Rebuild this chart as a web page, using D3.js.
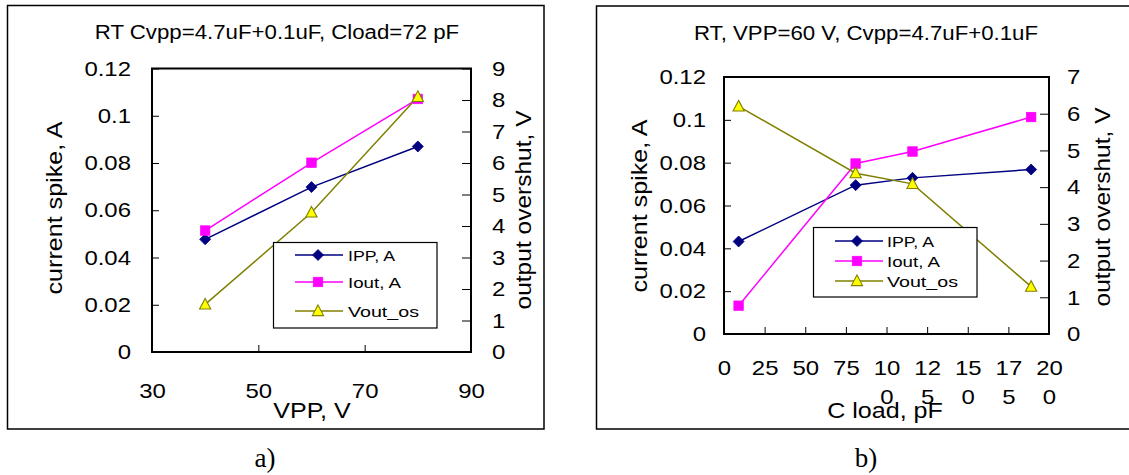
<!DOCTYPE html>
<html><head><meta charset="utf-8">
<script src="https://cdn.jsdelivr.net/npm/d3@7"></script>
<style>
body{margin:0;background:#fff}
svg{display:block}
text{font-family:"Liberation Sans",Arial,sans-serif;fill:#000}
</style>
</head><body>
<svg id="c" width="1129" height="475"></svg>
<script>
// ---- data ----
const vppA   = [40, 60, 80];
const ippA   = [0.0477, 0.0698, 0.0870];
const ioutA  = [0.0514, 0.0801, 0.1071];
const voutA  = [1.51, 4.43, 8.10];

const cloadB = [9, 81, 116, 189];
const ippB   = [0.0432, 0.0695, 0.0729, 0.0768];
const ioutB  = [0.0132, 0.0796, 0.0852, 0.1013];
const voutB  = [6.20, 4.38, 4.09, 1.29];

const seriesNames = ["IPP, A", "Iout, A", "Vout_os"];
const leftTicks = [0, 0.02, 0.04, 0.06, 0.08, 0.1, 0.12];
const leftTickLabels = ["0", "0.02", "0.04", "0.06", "0.08", "0.1", "0.12"];
const rightTicksA = [0,1,2,3,4,5,6,7,8,9];
const rightTicksB = [0,1,2,3,4,5,6,7];
const xTicksA = [30, 50, 70, 90];
const xTicksB = [0, 25, 50, 75, 100, 125, 150, 175, 200];
const xTickLabelsB = ["0","25","50","75","100","125","150","175","200"];

const titleA = "RT Cvpp=4.7uF+0.1uF, Cload=72 pF";
const titleB = "RT, VPP=60 V, Cvpp=4.7uF+0.1uF";
const xTitleA = "VPP, V";
const xTitleB = "C load, pF";
const yTitleL = "current spike, A";
const yTitleR = "output overshut, V";

const svg = d3.select("#c");
const colors = ["#000080", "#FF00FF", "#808000"];

function marker(g, kind, cx, cy) {
  if (kind === 0) {
    g.append("path").attr("d", `M${cx},${cy-5.5}L${cx+5.5},${cy}L${cx},${cy+5.5}L${cx-5.5},${cy}Z`)
      .attr("fill", "#000080").attr("stroke", "#000080").attr("stroke-width", 0.8);
  } else if (kind === 1) {
    g.append("rect").attr("x", cx-4.8).attr("y", cy-4.8).attr("width", 9.6).attr("height", 9.6)
      .attr("fill", "#FF00FF").attr("stroke", "#FF00FF").attr("stroke-width", 0.6);
  } else {
    g.append("path").attr("d", `M${cx},${cy-6}L${cx+5.6},${cy+4.6}L${cx-5.6},${cy+4.6}Z`)
      .attr("fill", "#FFFF00").attr("stroke", "#808000").attr("stroke-width", 1.1);
  }
}

function panel(o) {
  const g = svg.append("g");
  g.append("rect").attr("x", o.box[0]).attr("y", o.box[1])
    .attr("width", o.box[2]-o.box[0]).attr("height", o.box[3]-o.box[1])
    .attr("fill", "none").attr("stroke", "#000").attr("stroke-width", 1.5);

  const x = d3.scaleLinear().domain(o.xDomain).range([o.L, o.R]);
  const yL = d3.scaleLinear().domain([0, 0.12]).range([o.B, o.T]);
  const yR = d3.scaleLinear().domain([0, o.rMax]).range([o.B, o.T]);

  const ax = (sel) => { sel.select(".domain").remove(); sel.attr("font-family", null).attr("font-size", 21);
    sel.selectAll(".tick line").attr("stroke", "#000"); };

  g.append("g").attr("transform", `translate(${o.L},0)`)
    .call(d3.axisLeft(yL).tickValues(leftTicks).tickFormat((d,i)=>leftTickLabels[i])
      .tickSizeInner(-7).tickSizeOuter(0).tickPadding(o.padY)).call(ax);
  g.append("g").attr("transform", `translate(${o.R},0)`)
    .call(d3.axisRight(yR).tickValues(o.rTicks).tickFormat(d=>String(d))
      .tickSizeInner(-9).tickSizeOuter(0).tickPadding(o.padY)).call(ax);
  const xa = g.append("g").attr("transform", `translate(0,${o.B})`)
    .call(d3.axisBottom(x).tickValues(o.xTicks).tickFormat((d,i)=>o.xLabels[i])
      .tickSizeInner(-7).tickSizeOuter(0).tickPadding(o.padX)).call(ax);
  if (o.wrap) {
    xa.selectAll(".tick text").each(function(d,i){
      const lab = o.xLabels[i];
      const t = d3.select(this); t.text(null);
      if (lab.length > 2) {
        t.append("tspan").attr("x", 0).text(lab.slice(0,2));
        t.append("tspan").attr("x", 0).attr("dy", 29).text(lab.slice(2));
      } else {
        t.append("tspan").attr("x", 0).text(lab);
      }
    });
  }

  const sets = [[o.ipp, yL], [o.iout, yL], [o.vout, yR]];
  sets.forEach(([vals, ys], k) => {
    const pts = o.xs.map((xv, i) => [x(xv), ys(vals[i])]);
    g.append("path").attr("d", d3.line()(pts)).attr("fill", "none")
      .attr("stroke", colors[k]).attr("stroke-width", 1.5);
  });
  sets.forEach(([vals, ys], k) => {
    o.xs.forEach((xv, i) => marker(g, k, x(xv), ys(vals[i])));
  });

  g.append("rect").attr("x", o.L).attr("y", o.T).attr("width", o.R-o.L).attr("height", o.B-o.T)
    .attr("fill", "none").attr("stroke", "#000").attr("stroke-width", 2);

  // legend
  const lg = o.leg;
  g.append("rect").attr("x", lg.x0).attr("y", lg.y0).attr("width", lg.x1-lg.x0).attr("height", lg.y1-lg.y0)
    .attr("fill", "#fff").attr("stroke", "#000").attr("stroke-width", 1.2);
  const legW = [47, 53, 71];
  seriesNames.forEach((nm, k) => {
    const yy = lg.rows[k];
    g.append("line").attr("x1", lg.l0).attr("x2", lg.l1).attr("y1", yy).attr("y2", yy)
      .attr("stroke", colors[k]).attr("stroke-width", 1.5);
    marker(g, k, lg.m, yy);
    g.append("text").attr("class", "fixed").attr("x", lg.t).attr("y", yy+5.6)
      .attr("font-size", 15.5).attr("textLength", legW[k]).attr("lengthAdjust", "spacingAndGlyphs").text(nm);
  });

  g.append("text").attr("x", o.title[0]).attr("y", o.title[1]).attr("text-anchor", "middle")
    .attr("font-size", 19.5).text(o.titleText);
  g.append("text").attr("x", o.xt[0]).attr("y", o.xt[1]).attr("text-anchor", "middle")
    .attr("font-size", 22).text(o.xtText);
  g.append("text").attr("transform", `translate(${o.ytl[0]},${o.ytl[1]}) rotate(-90)`)
    .attr("text-anchor", "middle").attr("font-size", 22).text(yTitleL);
  g.append("text").attr("transform", `translate(${o.ytr[0]},${o.ytr[1]}) rotate(-90)`)
    .attr("text-anchor", "middle").attr("font-size", 21.5).text(yTitleR);
  g.append("text").attr("class", "fixed").attr("x", o.cap).attr("y", 467).attr("text-anchor", "middle")
    .style("font-family", '"Liberation Serif","Times New Roman",serif').attr("font-size", 27).text(o.capText);
}

panel({
  box: [7.5, 5.5, 544, 429], L: 152, R: 471, T: 68.5, B: 352,
  xDomain: [30, 90], rMax: 9, rTicks: rightTicksA, xTicks: xTicksA, xLabels: xTicksA.map(String),
  padY: 21, padX: 31.5, wrap: false,
  xs: vppA, ipp: ippA, iout: ioutA, vout: voutA,
  leg: {x0: 273.5, y0: 242.5, x1: 437, y1: 328, rows: [255, 282, 311], l0: 295, l1: 343, m: 318, t: 348},
  title: [277, 39], titleText: titleA, xt: [312, 418], xtText: xTitleA,
  ytl: [62, 208], ytr: [531, 210], cap: 265, capText: "a)"
});
panel({
  box: [596.5, 6, 1140, 429], L: 724, R: 1049, T: 77, B: 334,
  xDomain: [0, 200], rMax: 7, rTicks: rightTicksB, xTicks: xTicksB, xLabels: xTickLabelsB,
  padY: 18, padX: 26.5, wrap: true,
  xs: cloadB, ipp: ippB, iout: ioutB, vout: voutB,
  leg: {x0: 813.5, y0: 227.5, x1: 977, y1: 297, rows: [241, 261, 281], l0: 835, l1: 883, m: 857, t: 887},
  title: [866, 40], titleText: titleB, xt: [885, 418], xtText: xTitleB,
  ytl: [647, 206], ytr: [1110, 207], cap: 866, capText: "b)"
});

// horizontal widening to match the reference glyph proportions
const K = 1.14;
svg.selectAll("text").each(function(){
  if (this.classList.contains("fixed")) return;
  const tsp = this.querySelectorAll("tspan");
  if (tsp.length) {
    tsp.forEach(t => { const L = t.getComputedTextLength();
      t.setAttribute("textLength", L*K); t.setAttribute("lengthAdjust", "spacingAndGlyphs"); });
  } else {
    const L = this.getComputedTextLength();
    this.setAttribute("textLength", L*K); this.setAttribute("lengthAdjust", "spacingAndGlyphs");
  }
});
</script>
</body></html>
